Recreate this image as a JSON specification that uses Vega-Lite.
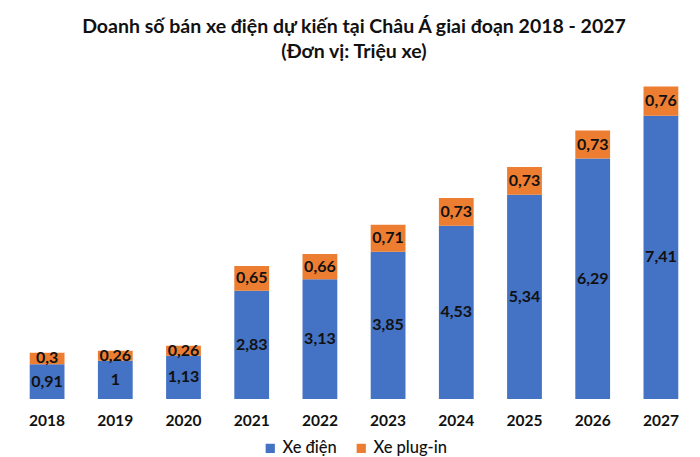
{
  "$schema": "https://vega.github.io/schema/vega-lite/v6.json",
  "width": 682,
  "height": 325,
  "autosize": {"type": "none"},
  "padding": {"left": 13, "top": 74, "right": 5, "bottom": 58},
  "background": "white",
  "title": {
    "text": ["Doanh số bán xe điện dự kiến tại Châu Á giai đoạn 2018 - 2027", "(Đơn vị: Triệu xe)"],
    "font": "Lato",
    "fontSize": 19.5,
    "fontWeight": "bold",
    "color": "#111111",
    "anchor": "middle",
    "lineHeight": 25,
    "offset": 12
  },
  "data": {
    "values": [
      {"year": "2018", "type": "Xe điện", "order": 1, "value": 0.91},
      {"year": "2019", "type": "Xe điện", "order": 1, "value": 1},
      {"year": "2020", "type": "Xe điện", "order": 1, "value": 1.13},
      {"year": "2021", "type": "Xe điện", "order": 1, "value": 2.83},
      {"year": "2022", "type": "Xe điện", "order": 1, "value": 3.13},
      {"year": "2023", "type": "Xe điện", "order": 1, "value": 3.85},
      {"year": "2024", "type": "Xe điện", "order": 1, "value": 4.53},
      {"year": "2025", "type": "Xe điện", "order": 1, "value": 5.34},
      {"year": "2026", "type": "Xe điện", "order": 1, "value": 6.29},
      {"year": "2027", "type": "Xe điện", "order": 1, "value": 7.41},
      {"year": "2018", "type": "Xe plug-in", "order": 2, "value": 0.3},
      {"year": "2019", "type": "Xe plug-in", "order": 2, "value": 0.26},
      {"year": "2020", "type": "Xe plug-in", "order": 2, "value": 0.26},
      {"year": "2021", "type": "Xe plug-in", "order": 2, "value": 0.65},
      {"year": "2022", "type": "Xe plug-in", "order": 2, "value": 0.66},
      {"year": "2023", "type": "Xe plug-in", "order": 2, "value": 0.71},
      {"year": "2024", "type": "Xe plug-in", "order": 2, "value": 0.73},
      {"year": "2025", "type": "Xe plug-in", "order": 2, "value": 0.73},
      {"year": "2026", "type": "Xe plug-in", "order": 2, "value": 0.73},
      {"year": "2027", "type": "Xe plug-in", "order": 2, "value": 0.76}
    ]
  },
  "transform": [
    {"stack": "value", "groupby": ["year"], "sort": [{"field": "order", "order": "ascending"}], "as": ["v0", "v1"]},
    {"calculate": "(datum.v0 + datum.v1) / 2", "as": "mid"},
    {"calculate": "replace(toString(datum.value), '.', ',')", "as": "label"}
  ],
  "encoding": {
    "x": {
      "field": "year",
      "type": "nominal",
      "scale": {"paddingInner": 0.49, "paddingOuter": 0.245},
      "axis": {
        "title": null,
        "labelAngle": 0,
        "labelFont": "Lato",
        "labelFontSize": 15.5,
        "labelFontWeight": "bold",
        "labelColor": "#111111",
        "labelPadding": 14,
        "domain": false,
        "ticks": false
      }
    }
  },
  "layer": [
    {
      "mark": {"type": "bar"},
      "encoding": {
        "y": {"field": "v0", "type": "quantitative", "scale": {"domain": [0, 8.5]}, "axis": null},
        "y2": {"field": "v1"},
        "color": {
          "field": "type",
          "type": "nominal",
          "scale": {"domain": ["Xe điện", "Xe plug-in"], "range": ["#4472C4", "#ED7D31"]},
          "legend": {
            "title": null,
            "orient": "bottom",
            "direction": "horizontal",
            "symbolType": "square",
            "symbolSize": 85,
            "symbolStrokeWidth": 0,
            "labelFont": "Lato",
            "labelFontSize": 16.5,
            "labelFontWeight": 500,
            "labelColor": "#111111",
            "labelOffset": 4,
            "columnPadding": 16,
            "offset": 11
          }
        }
      }
    },
    {
      "mark": {"type": "text", "font": "Lato", "fontSize": 16, "fontWeight": "bold", "color": "#111111", "baseline": "middle"},
      "encoding": {
        "y": {"field": "mid", "type": "quantitative", "scale": {"domain": [0, 8.5]}},
        "text": {"field": "label"}
      }
    }
  ],
  "config": {
    "view": {"stroke": null},
    "legend": {"layout": {"bottom": {"anchor": "middle"}}}
  }
}
